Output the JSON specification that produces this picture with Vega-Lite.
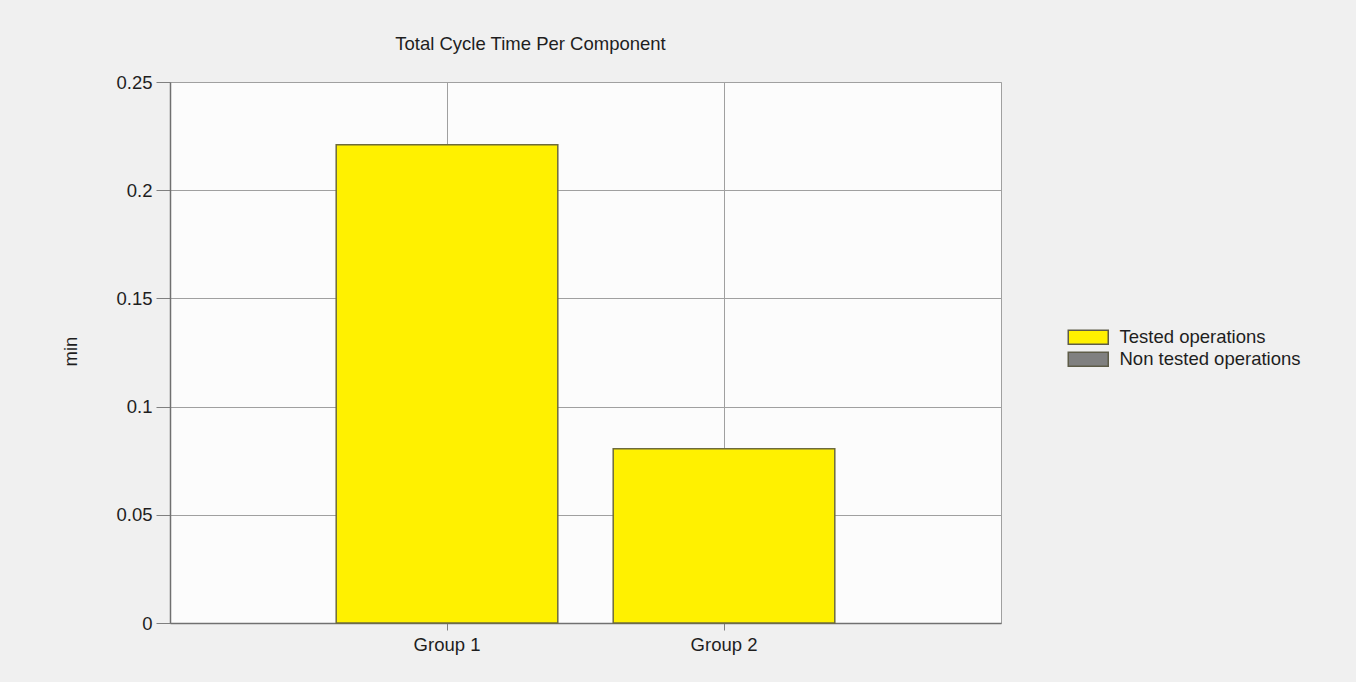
{
  "$schema": "https://vega.github.io/schema/vega-lite/v6.json",
  "autosize": "none",
  "width": 831,
  "height": 541,
  "padding": {"left": 170, "top": 82, "right": 355, "bottom": 59},
  "background": "#f0f0f0",
  "title": {
    "text": "Total Cycle Time Per Component",
    "font": "Liberation Sans",
    "fontSize": 18.5,
    "fontWeight": "normal",
    "color": "#1e1e1e",
    "anchor": "middle",
    "dx": -55,
    "offset": 20
  },
  "config": {
    "view": {"fill": "#fcfcfc", "stroke": "#a0a0a0", "strokeWidth": 1},
    "font": "Liberation Sans"
  },
  "data": {
    "values": [
      {"group": "Group 1", "type": "Tested operations", "value": 0.221},
      {"group": "Group 2", "type": "Tested operations", "value": 0.0805}
    ]
  },
  "mark": {"type": "bar", "stroke": "#6e6b3c", "strokeWidth": 1.5, "opacity": 1},
  "encoding": {
    "x": {
      "field": "group",
      "type": "nominal",
      "sort": null,
      "scale": {"paddingInner": 0.2, "paddingOuter": 0.6},
      "axis": {
        "title": null,
        "labelAngle": 0,
        "labelFontSize": 18.5,
        "labelColor": "#1e1e1e",
        "labelPadding": 5,
        "tickSize": 7,
        "tickColor": "#7f7f7f",
        "domainColor": "#707070",
        "domainWidth": 1.5,
        "grid": true,
        "gridColor": "#a0a0a0",
        "gridOpacity": 1,
        "bandPosition": 0.5
      }
    },
    "y": {
      "field": "value",
      "type": "quantitative",
      "scale": {"domain": [0, 0.25], "nice": false},
      "axis": {
        "title": "min",
        "titleFontSize": 18.5,
        "titleFontWeight": "normal",
        "titleColor": "#1e1e1e",
        "titleAngle": -90,
        "titleAlign": "center",
        "titleBaseline": "middle",
        "titleX": -100,
        "titleY": 269,
        "values": [0, 0.05, 0.1, 0.15, 0.2, 0.25],
        "format": "~g",
        "labelFontSize": 18.5,
        "labelColor": "#1e1e1e",
        "labelPadding": 4,
        "tickSize": 14,
        "tickColor": "#7f7f7f",
        "domainColor": "#707070",
        "domainWidth": 1.5,
        "grid": true,
        "gridColor": "#a0a0a0",
        "gridOpacity": 1
      }
    },
    "color": {
      "field": "type",
      "type": "nominal",
      "scale": {
        "domain": ["Tested operations", "Non tested operations"],
        "range": ["#fff100", "#808080"]
      },
      "legend": {
        "title": null,
        "orient": "none",
        "legendX": 909,
        "legendY": 246,
        "symbolType": "M-2.857,-1L2.857,-1L2.857,1L-2.857,1Z",
        "symbolSize": 196,
        "symbolStrokeColor": "#5e5c48",
        "symbolStrokeWidth": 1.5,
        "symbolOpacity": 1,
        "labelFontSize": 18.5,
        "labelColor": "#1e1e1e",
        "labelOffset": 22,
        "rowPadding": 1,
        "labelLimit": 400
      }
    }
  }
}
